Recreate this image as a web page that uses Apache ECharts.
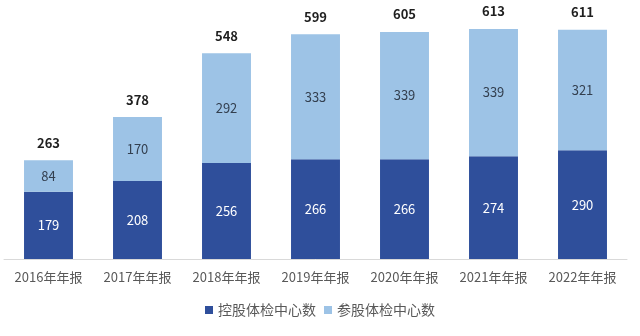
<!DOCTYPE html>
<html>
<head>
<meta charset="utf-8">
<script src="https://cdn.jsdelivr.net/npm/echarts@6/dist/echarts.min.js"></script>
<style>
html,body{margin:0;padding:0;background:#fff;}
#chart{width:640px;height:336px;}
</style>
</head>
<body>
<div id="chart"></div>
<script>
// Annual report years
const categories = ['2016年年报','2017年年报','2018年年报','2019年年报','2020年年报','2021年年报','2022年年报'];
// Controlled health check centers
const controlled = [179, 208, 256, 266, 266, 274, 290];
// Participating (minority stake) health check centers
const participating = [84, 170, 292, 333, 339, 339, 321];
// Totals shown above each stack
const totals = controlled.map((v, i) => v + participating[i]);

const font = '"Microsoft YaHei","Noto Sans CJK SC",sans-serif';
const chart = echarts.init(document.getElementById('chart'));
chart.setOption({
  animation: false,
  textStyle: { fontFamily: font },
  grid: { left: 4, right: 13, top: 15, bottom: 77 },
  legend: {
    bottom: 14,
    left: 'center',
    itemWidth: 8,
    itemHeight: 8,
    itemGap: 8,
    icon: 'rect',
    data: ['控股体检中心数', '参股体检中心数'],
    textStyle: { color: '#595959', fontSize: 14, fontFamily: font }
  },
  xAxis: {
    type: 'category',
    data: categories,
    axisLine: { lineStyle: { color: '#d9d9d9' } },
    axisTick: { show: false },
    axisLabel: { color: '#595959', fontSize: 13, margin: 12, fontFamily: font }
  },
  yAxis: {
    type: 'value',
    min: 0,
    max: 650,
    show: false,
    splitLine: { show: false }
  },
  series: [
    {
      name: '控股体检中心数',
      type: 'bar',
      stack: 'total',
      barWidth: '55%',
      data: controlled,
      itemStyle: { color: '#2F4F9B' },
      label: { show: true, position: 'inside', color: '#ffffff', fontSize: 13, fontFamily: font }
    },
    {
      name: '参股体检中心数',
      type: 'bar',
      stack: 'total',
      data: participating,
      itemStyle: { color: '#9DC3E6' },
      label: { show: true, position: 'inside', color: '#333f4f', fontSize: 13, fontFamily: font }
    },
    {
      name: '合计',
      type: 'line',
      data: totals,
      symbol: 'circle',
      symbolSize: 2,
      showSymbol: true,
      itemStyle: { color: 'rgba(0,0,0,0)', borderWidth: 0 },
      lineStyle: { color: 'rgba(0,0,0,0)', width: 0 },
      silent: true,
      z: 5,
      label: {
        show: true,
        position: 'top',
        distance: 10,
        color: '#1f1f1f',
        fontSize: 13,
        fontWeight: 'bold',
        fontFamily: font
      }
    }
  ]
});
</script>
</body>
</html>
